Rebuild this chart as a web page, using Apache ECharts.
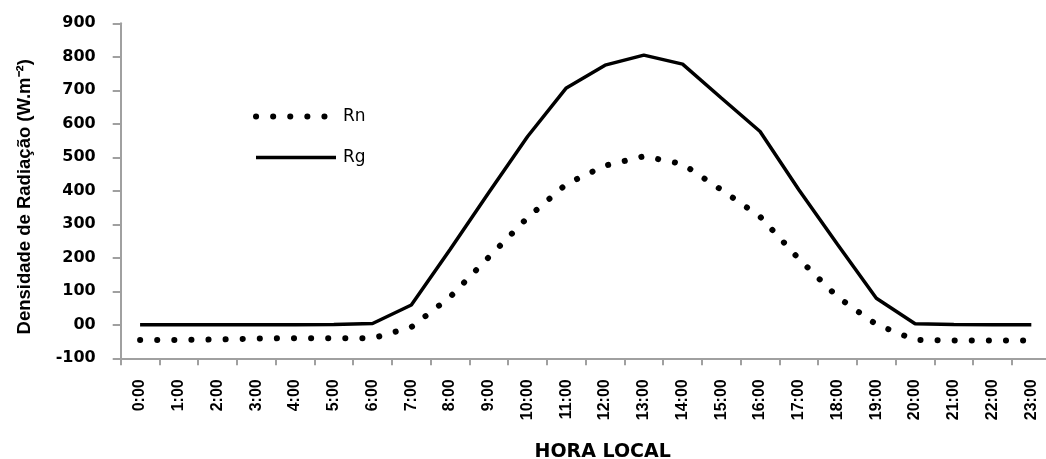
<!DOCTYPE html>
<html>
<head>
<meta charset="utf-8">
<script src="https://cdn.jsdelivr.net/npm/echarts@6/dist/echarts.min.js"></script>
<style>
  html, body { margin: 0; padding: 0; background: #fff; }
  #chart { width: 1046px; height: 459px; }
</style>
</head>
<body>
<div id="chart"></div>
<script>
const hours = ['0:00','1:00','2:00','3:00','4:00','5:00','6:00','7:00','8:00','9:00','10:00','11:00',
               '12:00','13:00','14:00','15:00','16:00','17:00','18:00','19:00','20:00','21:00','22:00','23:00'];
const rn = [-45,-45,-44,-41,-40,-40,-40,-7,83,202,320,420,475,503,480,403,323,197,83,1,-45,-47,-47,-47];
const rg = [0,0,0,0,0,1,4,59,225,395,562,707,775,805,778,677,577,403,240,79,3,1,0,0];
const yName = 'Densidade de Radiação (W.m⁻²)';
const xName = 'HORA LOCAL';

const axisGray = '#a0a0a0';
const chart = echarts.init(document.getElementById('chart'), null, { renderer: 'canvas' });
chart.setOption({
  animation: false,
  backgroundColor: '#fff',
  grid: { left: 120.7, top: 23.3, right: -4.7, bottom: 100.7, containLabel: false, outerBoundsMode: 'none' },
  legend: {
    orient: 'vertical',
    left: 248,
    top: 103,
    padding: 5,
    itemWidth: 80,
    itemHeight: 14,
    itemGap: 24,
    itemStyle: { opacity: 0 },
    textStyle: { fontFamily: 'DejaVu Sans', fontSize: 17, color: '#000', padding: [0, 0, 0, 2] },
    data: [
      { name: 'Rn', lineStyle: { width: 6 } },
      { name: 'Rg', lineStyle: { width: 3.5 } }
    ]
  },
  xAxis: {
    type: 'category',
    data: hours,
    boundaryGap: true,
    axisLine: { onZero: false, lineStyle: { color: axisGray, width: 2 } },
    axisTick: { show: true, length: 7, lineStyle: { color: axisGray, width: 2 } },
    axisLabel: { interval: 0, rotate: 90, margin: 21, fontSize: 16, fontWeight: 'bold',
                 fontFamily: 'Liberation Sans', color: '#000' },
    splitLine: { show: false },
    name: xName,
    nameLocation: 'middle',
    nameGap: 84,
    nameTextStyle: { fontFamily: 'DejaVu Sans', fontWeight: 'bold', fontSize: 19, color: '#000',
                     padding: [0, 0, 0, 34] }
  },
  yAxis: {
    type: 'value',
    min: -100,
    max: 900,
    interval: 100,
    axisLine: { show: true, lineStyle: { color: axisGray, width: 2 } },
    axisTick: { show: true, length: 8, lineStyle: { color: axisGray, width: 2 } },
    axisLabel: { margin: 25, fontSize: 16, fontWeight: 'bold', fontFamily: 'DejaVu Sans', color: '#000',
                 formatter: v => (v === 0 ? '00' : String(v)) },
    splitLine: { show: false },
    name: yName,
    nameLocation: 'middle',
    nameGap: 86,
    nameTextStyle: { fontFamily: 'Liberation Sans', fontWeight: 'bold', fontSize: 18.5, color: '#000',
                     padding: [0, 12, 0, 0] }
  },
  series: [
    {
      name: 'Rn', type: 'line', data: rn, symbol: 'none', smooth: false,
      itemStyle: { color: '#000' },
      lineStyle: { color: '#000', width: 6, type: [0.1, 17], cap: 'round' }
    },
    {
      name: 'Rg', type: 'line', data: rg, symbol: 'none', smooth: false,
      itemStyle: { color: '#000' },
      lineStyle: { color: '#000', width: 3.5 }
    }
  ]
});
</script>
</body>
</html>
